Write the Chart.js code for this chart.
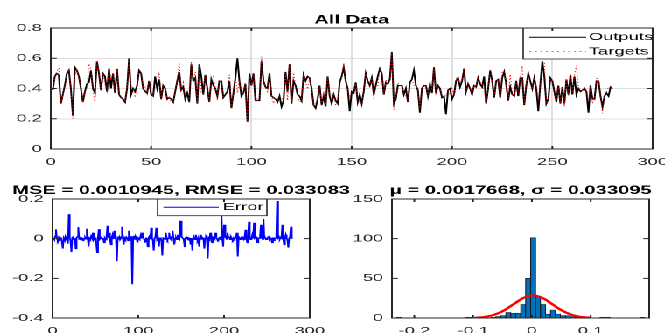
<!DOCTYPE html>
<html>
<head>
<meta charset="utf-8">
<script src="https://cdn.jsdelivr.net/npm/chart.js@4.4.0/dist/chart.umd.min.js"></script>
<style>
  html, body { margin: 0; padding: 0; background: #fff; overflow: hidden; }
  /* the reference figure is stretched sideways, so draw narrow and widen it */
  #page { position: absolute; left: 0; top: 0; width: 380px; height: 333px; transform: scaleX(1.75); transform-origin: 0 0; }
  canvas { position: absolute; }
</style>
</head>
<body>
<div id="page">
  <canvas id="top" width="380" height="170" style="left:0;top:0"></canvas>
  <canvas id="err" width="205" height="163" style="left:0;top:170px"></canvas>
  <canvas id="hist" width="190" height="163" style="left:190px;top:170px"></canvas>
</div>
<script>
// network outputs, one per sample (1..280)
var outputs = [
  0.39, 0.48, 0.50, 0.49, 0.30, 0.36, 0.42, 0.50, 0.52, 0.40,
  0.22, 0.54, 0.52, 0.48, 0.40, 0.31, 0.38, 0.43, 0.44, 0.52,
  0.40, 0.37, 0.58, 0.50, 0.39, 0.50, 0.48, 0.38, 0.53, 0.40,
  0.50, 0.37, 0.53, 0.36, 0.34, 0.33, 0.31, 0.40, 0.60, 0.36,
  0.40, 0.38, 0.42, 0.52, 0.50, 0.40, 0.38, 0.37, 0.45, 0.36,
  0.35, 0.48, 0.40, 0.46, 0.33, 0.42, 0.40, 0.33, 0.34, 0.33,
  0.31, 0.38, 0.45, 0.51, 0.39, 0.41, 0.33, 0.37, 0.31, 0.56,
  0.45, 0.47, 0.30, 0.56, 0.48, 0.36, 0.49, 0.40, 0.31, 0.46,
  0.42, 0.40, 0.35, 0.45, 0.45, 0.34, 0.36, 0.38, 0.45, 0.27,
  0.37, 0.47, 0.60, 0.45, 0.35, 0.37, 0.43, 0.18, 0.50, 0.42,
  0.50, 0.32, 0.32, 0.32, 0.58, 0.45, 0.41, 0.40, 0.50, 0.35,
  0.34, 0.33, 0.31, 0.35, 0.28, 0.32, 0.51, 0.38, 0.56, 0.30,
  0.45, 0.42, 0.36, 0.35, 0.32, 0.49, 0.45, 0.48, 0.47, 0.40,
  0.29, 0.27, 0.33, 0.42, 0.29, 0.35, 0.28, 0.48, 0.35, 0.30,
  0.36, 0.32, 0.30, 0.44, 0.48, 0.54, 0.45, 0.40, 0.25, 0.38,
  0.37, 0.44, 0.31, 0.36, 0.30, 0.38, 0.50, 0.45, 0.42, 0.47,
  0.36, 0.42, 0.48, 0.53, 0.50, 0.36, 0.44, 0.43, 0.46, 0.64,
  0.30, 0.33, 0.42, 0.42, 0.42, 0.36, 0.40, 0.31, 0.44, 0.46,
  0.52, 0.42, 0.39, 0.24, 0.40, 0.42, 0.42, 0.35, 0.43, 0.37,
  0.54, 0.37, 0.42, 0.40, 0.34, 0.35, 0.23, 0.39, 0.40, 0.33,
  0.36, 0.45, 0.47, 0.41, 0.45, 0.53, 0.38, 0.43, 0.40, 0.36,
  0.42, 0.41, 0.47, 0.43, 0.41, 0.48, 0.30, 0.40, 0.52, 0.45,
  0.34, 0.45, 0.46, 0.34, 0.47, 0.51, 0.43, 0.32, 0.41, 0.36,
  0.35, 0.45, 0.35, 0.47, 0.47, 0.29, 0.42, 0.50, 0.45, 0.40,
  0.47, 0.40, 0.25, 0.43, 0.58, 0.48, 0.30, 0.33, 0.47, 0.45,
  0.38, 0.31, 0.42, 0.30, 0.41, 0.30, 0.46, 0.36, 0.49, 0.36,
  0.48, 0.36, 0.40, 0.38, 0.39, 0.40, 0.38, 0.24, 0.42, 0.33,
  0.33, 0.45, 0.45, 0.35, 0.28, 0.35, 0.37, 0.35, 0.41, 0.40
];

// error = target - output, per sample
var errors = [
  0.003, -0.004, 0.012, 0.047, 0.002, -0.008, 0.004, -0.012, 0.006, 0.001,
  -0.018, -0.050, 0.003, -0.006, 0.010, -0.003, 0.002, -0.025, 0.124, 0.004,
  -0.010, -0.068, 0.005, 0.012, -0.004, 0.003, -0.050, 0.004, 0.010, 0.058,
  -0.003, 0.002, -0.006, 0.004, 0.001, -0.012, 0.003, 0.006, -0.002, 0.050,
  0.004, -0.040, 0.002, -0.004, 0.012, 0.003, 0.030, -0.005, 0.002, 0.006,
  0.001, -0.070, 0.004, 0.048, -0.003, 0.002, 0.010, -0.004, 0.003, -0.020,
  0.002, -0.006, 0.012, 0.065, 0.004, 0.030, 0.001, -0.030, 0.005, 0.020,
  -0.002, 0.040, 0.003, -0.004, -0.113, 0.006, 0.002, 0.010, -0.003, 0.004,
  0.060, 0.001, -0.030, 0.003, -0.005, 0.008, 0.002, -0.010, 0.040, 0.003,
  -0.002, 0.012, -0.230, 0.004, 0.015, -0.003, 0.010, 0.002, -0.020, 0.003,
  0.006, -0.004, 0.020, 0.001, 0.030, 0.004, -0.006, -0.020, 0.003, 0.002,
  -0.040, 0.005, 0.012, -0.003, 0.055, 0.002, -0.008, -0.060, 0.004, 0.010,
  0.055, -0.004, 0.003, -0.040, 0.002, 0.006, -0.010, -0.085, 0.004, 0.002,
  -0.003, 0.030, 0.005, -0.006, 0.002, 0.030, 0.001, -0.004, 0.010, 0.040,
  0.003, -0.030, 0.002, 0.006, -0.004, 0.020, 0.003, -0.002, 0.090, 0.004,
  0.010, 0.002, -0.005, -0.040, 0.003, 0.001, 0.010, -0.006, 0.004, 0.002,
  -0.030, 0.003, -0.060, 0.002, 0.006, -0.004, 0.020, 0.003, -0.008, 0.004,
  -0.040, 0.002, 0.020, -0.003, 0.005, 0.001, -0.050, 0.004, 0.010, 0.002,
  -0.100, 0.003, -0.004, 0.030, 0.002, -0.020, 0.006, 0.001, -0.003, 0.030,
  0.004, -0.002, -0.015, 0.003, 0.010, -0.005, 0.120, 0.002, -0.040, 0.070,
  0.004, 0.020, -0.003, 0.030, 0.006, 0.010, -0.004, 0.010, 0.002, -0.006,
  0.003, -0.010, 0.004, 0.012, 0.030, -0.090, 0.002, 0.003, -0.004, 0.006,
  0.010, 0.002, -0.005, 0.004, 0.045, 0.003, -0.020, 0.006, 0.085, 0.002,
  -0.004, 0.003, 0.020, 0.001, 0.080, 0.004, 0.010, -0.006, -0.020, 0.003,
  0.002, 0.012, 0.070, 0.004, -0.003, 0.100, 0.002, 0.005, -0.004, 0.006,
  0.003, 0.010, -0.002, 0.004, 0.001, -0.020, 0.006, -0.010, 0.003, 0.002,
  0.012, 0.190, 0.004, 0.010, -0.003, 0.006, 0.002, 0.070, 0.004, -0.030,
  0.003, 0.020, 0.002, -0.006, -0.045, 0.004, 0.010, 0.060, 0.003, 0.000
];

// error histogram: centres of the non-empty bins and their counts
var binCenters = [-0.2258, -0.1076, -0.0654, -0.0570, -0.0486, -0.0401, -0.0317, -0.0232,
  -0.0148, -0.0064, 0.0021, 0.0105, 0.0190, 0.0274, 0.0358, 0.0443, 0.0527, 0.0612,
  0.0696, 0.0780, 0.0865, 0.1202, 0.1287, 0.1878];
var binCounts = [1, 1, 1, 2, 3, 7, 6, 6, 17, 50, 101, 27, 17, 5, 10, 5, 3, 3, 2, 1, 1, 1, 1, 1];

// fitted normal curve
var fitX = [-0.0975, -0.0810, -0.0644, -0.0479, -0.0313, -0.0148, 0.0018,
  0.0183, 0.0349, 0.0514, 0.0680, 0.0845, 0.1011];
var fitY = [0.32, 1.25, 3.9, 9.3, 17.3, 25.2, 28.5, 25.2, 17.3, 9.3, 3.9, 1.25, 0.32];

var titleTop = 'All Data';
var titleErr = 'MSE = 0.0010945, RMSE = 0.033083';
var titleHist = '\u03bc = 0.0017668, \u03c3 = 0.033095';

Chart.defaults.font.family = "'Liberation Sans', Arial, Helvetica, sans-serif";
Chart.defaults.font.size = 10.5;
Chart.defaults.color = '#262626';

var outputPts = [], targetPts = [], errorPts = [];
for (var i = 0; i < outputs.length; i++) {
  outputPts.push({x: i + 1, y: outputs[i]});
  targetPts.push({x: i + 1, y: outputs[i] + errors[i]});
  errorPts.push({x: i + 1, y: errors[i]});
}
var histPts = binCenters.map(function(c, i) { return {x: c, y: binCounts[i]}; });
var fitPts = fitX.map(function(x, i) { return {x: x, y: fitY[i]}; });

// plain matlab-like numbers: 0 rather than 0.0
function plainNum(v) { return String(Math.round(v * 1000) / 1000); }

// fixed axis sizes, and let edge labels hang over instead of shrinking the plot
function fixHeight(h) {
  return function(s) { s.height = h; s.paddingLeft = 0; s.paddingRight = 0; };
}
function fixWidth(w) {
  return function(s) { s.width = w; s.paddingTop = 0; s.paddingBottom = 0; };
}

// matlab style axes box with inward ticks on all four sides
var matlabBox = {
  id: 'matlabBox',
  afterDraw: function(chart) {
    var a = chart.chartArea, ctx = chart.ctx;
    var xs = chart.scales.x, ys = chart.scales.y;
    ctx.save();
    ctx.strokeStyle = '#262626';
    ctx.lineWidth = 1;
    ctx.beginPath();
    xs.ticks.forEach(function(t) {
      var px = xs.getPixelForValue(t.value);
      ctx.moveTo(px, a.bottom); ctx.lineTo(px, a.bottom - 3);
      ctx.moveTo(px, a.top); ctx.lineTo(px, a.top + 3);
    });
    ys.ticks.forEach(function(t) {
      var py = ys.getPixelForValue(t.value);
      ctx.moveTo(a.left, py); ctx.lineTo(a.left + 3.4, py);
      ctx.moveTo(a.right, py); ctx.lineTo(a.right - 3.4, py);
    });
    ctx.stroke();
    ctx.strokeRect(a.left, a.top, a.right - a.left, a.bottom - a.top);
    ctx.restore();
  }
};

// bold title centred over the axes, like matlab's title()
var axTitle = {
  id: 'axTitle',
  afterDraw: function(chart, args, o) {
    var a = chart.chartArea, ctx = chart.ctx;
    ctx.save();
    ctx.font = "bold 11.5px 'Liberation Sans', Arial, sans-serif";
    ctx.fillStyle = '#000';
    ctx.textAlign = 'center';
    ctx.textBaseline = 'alphabetic';
    ctx.fillText(o.text, (a.left + a.right) / 2, a.top - o.gap);
    ctx.restore();
  }
};

// legend drawn as a boxed list inside the axes
var boxLegend = {
  id: 'boxLegend',
  afterDatasetsDraw: function(chart, args, o) {
    if (!o.width) return;
    var a = chart.chartArea, ctx = chart.ctx;
    var left = o.anchor === 'right' ? a.right - o.width : a.left + o.offsetX;
    var top = a.top;
    ctx.save();
    ctx.fillStyle = '#fff';
    ctx.fillRect(left, top, o.width, o.height);
    ctx.strokeStyle = '#262626';
    ctx.lineWidth = 0.8;
    ctx.strokeRect(left, top, o.width, o.height);
    ctx.font = "10.5px 'Liberation Sans', Arial, sans-serif";
    ctx.textBaseline = 'middle';
    ctx.fillStyle = '#000';
    chart.data.datasets.forEach(function(ds, i) {
      var y = top + o.rowTop + i * o.rowGap;
      ctx.beginPath();
      ctx.strokeStyle = ds.borderColor;
      ctx.lineWidth = ds.borderWidth;
      ctx.setLineDash(ds.borderDash || []);
      ctx.moveTo(left + o.lineStart, y);
      ctx.lineTo(left + o.lineEnd, y);
      ctx.stroke();
      ctx.setLineDash([]);
      ctx.fillText(ds.label, left + o.textX, y);
    });
    ctx.restore();
  }
};

new Chart(document.getElementById('top'), {
  type: 'line',
  data: { datasets: [
    { label: 'Outputs', data: outputPts, borderColor: '#000000', borderWidth: 1, pointRadius: 0, tension: 0, order: 1 },
    { label: 'Targets', data: targetPts, borderColor: '#ff0000', borderWidth: 0.6, borderDash: [1, 2.2], pointRadius: 0, tension: 0, order: 0 }
  ]},
  options: {
    responsive: false, animation: false, devicePixelRatio: 2,
    layout: { padding: { left: 0, right: 7, top: 28, bottom: 0 }, autoPadding: false },
    plugins: {
      legend: { display: false }, tooltip: { enabled: false }, title: { display: false },
      axTitle: { text: titleTop, gap: 4.7 },
      boxLegend: { anchor: 'right', width: 74, height: 31, lineStart: 3.5, lineEnd: 36, textX: 37.5, rowTop: 9.3, rowGap: 14.4 }
    },
    scales: {
      x: { type: 'linear', min: 0, max: 300,
        ticks: { stepSize: 50, padding: 7, maxRotation: 0, callback: plainNum },
        grid: { color: '#dfdfdf', drawTicks: false }, border: { display: false },
        afterFit: fixHeight(21) },
      y: { min: 0, max: 0.8,
        ticks: { stepSize: 0.2, padding: 5, callback: plainNum },
        grid: { color: '#dfdfdf', drawTicks: false }, border: { display: false },
        afterFit: fixWidth(29) }
    }
  },
  plugins: [boxLegend, matlabBox, axTitle]
});

new Chart(document.getElementById('err'), {
  type: 'line',
  data: { datasets: [
    { label: 'Error', data: errorPts, borderColor: '#0000ff', borderWidth: 1, pointRadius: 0, tension: 0 }
  ]},
  options: {
    responsive: false, animation: false, devicePixelRatio: 2,
    layout: { padding: { left: 0, right: 28, top: 29, bottom: 0 }, autoPadding: false },
    plugins: {
      legend: { display: false }, tooltip: { enabled: false }, title: { display: false },
      axTitle: { text: titleErr, gap: 5 },
      boxLegend: { anchor: 'left', offsetX: 60, width: 62.5, height: 16.7, lineStart: 3.4, lineEnd: 35, textX: 37.3, rowTop: 8.3, rowGap: 0 }
    },
    scales: {
      x: { type: 'linear', min: 0, max: 300,
        ticks: { stepSize: 100, padding: 7, maxRotation: 0, callback: plainNum },
        grid: { display: false, drawTicks: false }, border: { display: false },
        afterFit: fixHeight(15) },
      y: { min: -0.4, max: 0.2,
        ticks: { stepSize: 0.2, padding: 5, callback: plainNum },
        grid: { display: false, drawTicks: false }, border: { display: false },
        afterFit: fixWidth(30) }
    }
  },
  plugins: [boxLegend, matlabBox, axTitle]
});

new Chart(document.getElementById('hist'), {
  type: 'bar',
  data: { datasets: [
    { type: 'line', label: 'Fit', data: fitPts, borderColor: '#ff0000', borderWidth: 2, pointRadius: 0, cubicInterpolationMode: 'monotone', order: 0 },
    { type: 'bar', label: 'Errors', data: histPts, backgroundColor: '#0072bd', borderColor: '#1a1a1a', borderWidth: 0.6, barPercentage: 1, categoryPercentage: 1, order: 1 }
  ]},
  options: {
    responsive: false, animation: false, devicePixelRatio: 2,
    layout: { padding: { left: 0, right: 9, top: 29, bottom: 0 }, autoPadding: false },
    plugins: {
      legend: { display: false }, tooltip: { enabled: false }, title: { display: false },
      axTitle: { text: titleHist, gap: 4.8 }
    },
    scales: {
      x: { type: 'linear', min: -0.238, max: 0.1995, offset: false,
        ticks: { stepSize: 0.1, includeBounds: false, padding: 7, maxRotation: 0, callback: plainNum },
        grid: { display: false, drawTicks: false, offset: false }, border: { display: false },
        afterFit: fixHeight(15) },
      y: { min: 0, max: 150,
        ticks: { stepSize: 50, padding: 5, callback: plainNum },
        grid: { display: false, drawTicks: false }, border: { display: false },
        afterFit: fixWidth(34) }
    }
  },
  plugins: [matlabBox, axTitle]
});
</script>
</body>
</html>
